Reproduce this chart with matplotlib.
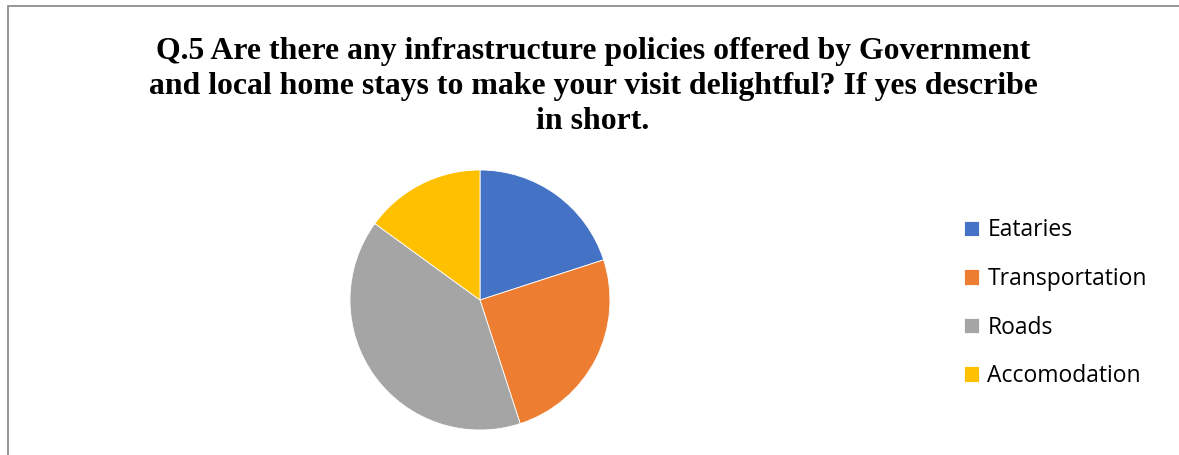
import matplotlib
matplotlib.use("Agg")
import matplotlib.pyplot as plt
from matplotlib.patches import Rectangle

categories = ["Eataries", "Transportation", "Roads", "Accomodation"]
shares = [20, 25, 40, 15]
colors = ["#4472C4", "#ED7D31", "#A5A5A5", "#FFC000"]
title = ("Q.5 Are there any infrastructure policies offered by Government\n"
         "and local home stays to make your visit delightful? If yes describe\n"
         "in short.")

W, H = 1179, 455
fig = plt.figure(figsize=(W / 100, H / 100), dpi=100)
fig.patch.set_facecolor("white")

# chart-area frame (open on the right and bottom)
fig.add_artist(Rectangle((8 / W, -0.1), 1.2, (H - 6) / H + 0.1,
                         transform=fig.transFigure, fill=False,
                         edgecolor="#8f8f8f", linewidth=1.3))

fig.text(593 / W, 1 - 86.5 / H, title, ha="center", va="center",
         fontfamily="Liberation Serif", fontweight="bold", fontsize=22.9,
         linespacing=1.29)

cx, cy, r = 480, 300, 130
ax = fig.add_axes([(cx - r) / W, (H - cy - r) / H, 2 * r / W, 2 * r / H])
wedges, _ = ax.pie(shares, colors=colors, startangle=90, counterclock=False,
                   radius=1, wedgeprops=dict(edgecolor="white", linewidth=0.6))
ax.set_xlim(-1, 1)
ax.set_ylim(-1, 1)
ax.set_aspect("equal")
ax.axis("off")

fig.legend(wedges, categories, loc="upper left",
           bbox_to_anchor=(953 / W, 1 - 207 / H), frameon=False,
           prop={"family": "Open Sans", "size": 16.5},
           handlelength=0.65, handleheight=0.65, handletextpad=0.35,
           labelspacing=1.07, borderpad=0)

fig.savefig("out.png", dpi=100, facecolor="white")
